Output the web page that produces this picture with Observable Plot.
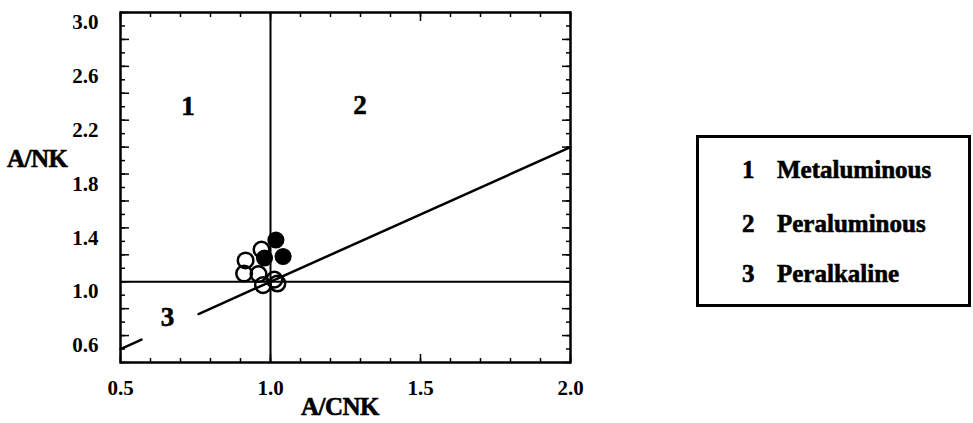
<!DOCTYPE html>
<html><head><meta charset="utf-8">
<script src="https://cdn.jsdelivr.net/npm/d3@7"></script>
<script src="https://cdn.jsdelivr.net/npm/@observablehq/plot@0.6"></script>
<style>
body{margin:0;background:#fff;}
#wrap{position:relative;width:973px;height:423px;overflow:hidden;font-family:"Liberation Serif","Times New Roman",serif;font-weight:bold;color:#000;}
#wrap svg{position:absolute;left:0;top:0;}
#wrap svg text{paint-order:stroke;}
.title{position:absolute;font-size:25px;line-height:25px;white-space:nowrap;-webkit-text-stroke:0.6px #000;letter-spacing:-0.5px;}
#legend{position:absolute;left:696px;top:135px;width:275px;height:172px;border:3px solid #000;box-sizing:border-box;}
.row{position:absolute;font-size:25px;line-height:25px;white-space:nowrap;-webkit-text-stroke:0.6px #000;}
</style></head>
<body><div id="wrap"></div>
<script>
// Sample points (A/CNK, A/NK)
const openACNK = [0.917, 0.970, 0.912, 0.960, 0.975, 1.013, 1.023];
const openANK  = [1.158, 1.239, 1.061, 1.057, 0.975, 1.016, 0.987];
const solidACNK = [1.018, 1.042, 0.980];
const solidANK  = [1.310, 1.187, 1.176];
// Field boundaries
const dividerACNK = [1.0];
const dividerANK = [1.0];
const boundaryACNK = [0.5, 0.57, 0.76, 2.0];
const boundaryANK  = [0.5, 0.57, 0.76, 2.0];
const boundarySeg  = [0, 0, 1, 1];
// Field labels
const zoneText = ["1", "2", "3"];
const zoneACNK = [0.725, 1.298, 0.657];
const zoneANK  = [2.30, 2.31, 0.734];
// Axis ticks
const xMinor = d3.range(5, 21).map(d => d / 10);
const xMajor = [0.5, 1.0, 1.5, 2.0];
const yMinor = d3.range(4, 31).map(d => d / 10);
const yMajor = d3.range(4, 31, 2).map(d => d / 10);
const yLabels = [0.6, 1.0, 1.4, 1.8, 2.2, 2.6, 3.0];
const legendNums = ["1", "2", "3"];
const legendNames = ["Metaluminous", "Peraluminous", "Peralkaline"];

const openPts = openACNK.map((x, i) => ({x, y: openANK[i]}));
const solidPts = solidACNK.map((x, i) => ({x, y: solidANK[i]}));
const boundary = boundaryACNK.map((x, i) => ({x, y: boundaryANK[i], seg: boundarySeg[i]}));
const zones = zoneText.map((t, i) => ({t, x: zoneACNK[i], y: zoneANK[i]}));
const blank = () => "";
const fmt = d3.format(".1f");
const txt = {fontWeight: "bold", stroke: "black", strokeWidth: 0.6};

const chart = Plot.plot({
  width: 973, height: 423,
  marginLeft: 120, marginRight: 403, marginTop: 12, marginBottom: 61,
  x: {domain: [0.5, 2.0]},
  y: {domain: [0.4, 3.0]},
  style: {fontFamily: '"Liberation Serif", serif', fontWeight: "bold", color: "#000", background: "transparent"},
  marks: [
    Plot.ruleX(dividerACNK, {strokeWidth: 2}),
    Plot.ruleY(dividerANK, {strokeWidth: 2}),
    Plot.line(boundary, {x: "x", y: "y", z: "seg", strokeWidth: 2.5}),
    Plot.dot(openPts, {x: "x", y: "y", r: 7.8, stroke: "black", strokeWidth: 2.5, fill: "none"}),
    Plot.dot(solidPts, {x: "x", y: "y", r: 7.8, fill: "black", stroke: "black", strokeWidth: 1.5}),
    Plot.text(zones, {x: "x", y: "y", text: "t", fontSize: 27, fill: "black", ...txt}),
    // inward ticks
    Plot.axisX(xMinor, {anchor: "bottom", tickSize: -4, tickFormat: blank, label: null, strokeWidth: 1.5}),
    Plot.axisX(xMajor, {anchor: "bottom", tickSize: -8, tickFormat: blank, label: null, strokeWidth: 1.5}),
    Plot.axisX(xMinor, {anchor: "top", tickSize: -4, tickFormat: blank, label: null, strokeWidth: 1.5}),
    Plot.axisX(xMajor, {anchor: "top", tickSize: -8, tickFormat: blank, label: null, strokeWidth: 1.5}),
    Plot.axisY(yMinor, {anchor: "left", tickSize: -5, tickFormat: blank, label: null, strokeWidth: 1.5}),
    Plot.axisY(yMajor, {anchor: "left", tickSize: -9, tickFormat: blank, label: null, strokeWidth: 1.5}),
    Plot.axisY(yMinor, {anchor: "right", tickSize: -5, tickFormat: blank, label: null, strokeWidth: 1.5}),
    Plot.axisY(yMajor, {anchor: "right", tickSize: -9, tickFormat: blank, label: null, strokeWidth: 1.5}),
    // labels
    Plot.axisX(xMajor, {anchor: "bottom", tickSize: 0, tickPadding: 18, tickFormat: fmt, label: null, fontSize: 21, fill: "black", ...txt}),
    Plot.axisY(yLabels, {anchor: "left", tickSize: 0, tickPadding: 22, dy: 10, tickFormat: fmt, label: null, fontSize: 21, fill: "black", ...txt}),
    Plot.frame({strokeWidth: 2.5})
  ]
});

const wrap = document.getElementById("wrap");
wrap.appendChild(chart);

const yt = document.createElement("div");
yt.className = "title"; yt.textContent = "A/NK";
yt.style.left = "7px"; yt.style.top = "146px";
wrap.appendChild(yt);
const xt = document.createElement("div");
xt.className = "title"; xt.textContent = "A/CNK";
xt.style.left = "301px"; xt.style.top = "394px";
wrap.appendChild(xt);

const lg = document.createElement("div");
lg.id = "legend";
const rowTops = [19, 73, 123];
legendNums.forEach((n, i) => {
  const a = document.createElement("div");
  a.className = "row"; a.textContent = n;
  a.style.left = "43px"; a.style.top = rowTops[i] + "px";
  lg.appendChild(a);
  const b = document.createElement("div");
  b.className = "row"; b.textContent = legendNames[i];
  b.style.left = "78px"; b.style.top = rowTops[i] + "px";
  lg.appendChild(b);
});
wrap.appendChild(lg);
</script>
</body></html>
